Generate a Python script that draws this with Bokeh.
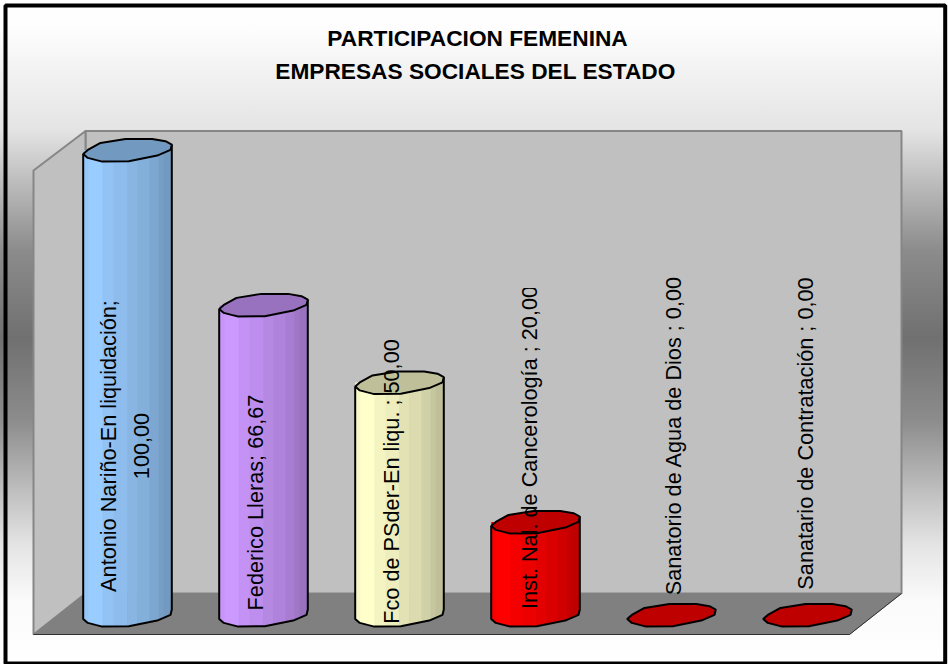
from bokeh.plotting import figure
from bokeh.models import Range1d
from bokeh.core.properties import value
from bokeh.embed import file_html
from bokeh.resources import INLINE
import numpy as np

# ---- data -------------------------------------------------------------
categories = ["Antonio Nariño-En liquidación", "Federico Lleras", "Fco de PSder-En liqu.",
              "Inst. Nal. de Cancerología", "Sanatorio de Agua de Dios", "Sanatario de Contratación"]
values = [100.00, 66.67, 50.00, 20.00, 0.00, 0.00]
value_labels = ["100,00", "66,67", "50,00", "20,00", "0,00", "0,00"]
separators = [";\n", "; ", " ; ", " ; ", " ; ", " ; "]
title_lines = ["PARTICIPACION FEMENINA", "EMPRESAS SOCIALES DEL ESTADO"]
body_colors = ["#99CCFF", "#CC99FF", "#FFFFCC", "#FF0000", "#FF0000", "#FF0000"]

# ---- layout ------------------------------------------------------------
W, H = 948, 664
X0, DX = 127.0, 136.0        # pixel of first category, category step
Y0, DY = 614.4, 4.65         # pixel of value 0, pixels per value unit
def cx(px): return (np.asarray(px, float) - X0) / DX
def vy(py): return (Y0 - np.asarray(py, float)) / DY

p = figure(width=W, height=H, output_backend="svg", toolbar_location=None,
           x_range=Range1d(float(cx(0)), float(cx(W))), y_range=Range1d(float(vy(H)), float(vy(0))),
           min_border=0, margin=(0, 0, 0, 0), outline_line_color=None,
           background_fill_color=None, border_fill_color=None)
p.xaxis.visible = False
p.yaxis.visible = False
p.grid.visible = False
p.styles = {"position": "absolute", "left": "0px", "top": "0px",
            "background": "linear-gradient(to bottom, #ffffff 0px, #fdfdfd 30px, #f5f5f5 60px, #e4e4e4 130px, "
                          "#bebebe 180px, #8c8c8c 250px, #707070 338px, #8c8c8c 420px, #bebebe 490px, "
                          "#e4e4e4 545px, #fafafa 600px, #ffffff 660px)"}

def poly(pts, **kw):
    xs = [float(cx(a)) for a, b in pts]
    ys = [float(vy(b)) for a, b in pts]
    p.patch(xs, ys, **kw)

# walls and floor
WALL, EDGE = "#C0C0C0", "#868686"
poly([(85, 130.5), (901, 130.5), (901, 593), (85, 593)], fill_color=WALL, line_color=EDGE, line_width=2)
poly([(33, 170), (85, 130.5), (85, 593), (33, 634)], fill_color=WALL, line_color=EDGE, line_width=2)
poly([(33, 634), (85, 593), (901, 593), (849, 634)], fill_color="#808080", line_color="#808080", line_width=1)
p.line([float(cx(33)), float(cx(849)), float(cx(901))], [float(vy(634)), float(vy(634)), float(vy(593))],
       line_color="#303030", line_width=1)

# cylinder outline (pixel offsets round a centre)
disk_dx = np.array([-44.3, -39.7, -27, -2, 24.7, 38, 44.3, 43, 29.7, 1.3, -25.3, -32, -39.7])
disk_dy = np.array([4, 0, -7, -11, -11, -8.7, -5.3, 0, 5.7, 11.3, 11.7, 10, 8])
low_dx = np.array([-44.3, -39.7, -32, -25.3, 1.3, 29.7, 43, 44.3])
low_dy = np.array([4, 8, 10, 11.7, 11.3, 5.7, 0, -5.3])
band_edges = np.array([-44.3, -39, -25, -14, -0.3, 9.7, 22, 31, 36, 44.3])
band_shade = [0.98, 1.0, 0.96, 0.93, 0.89, 0.86, 0.82, 0.78, 0.75]

def shade(col, f):
    r, g, b = (int(col[i:i + 2], 16) for i in (1, 3, 5))
    return "#%02x%02x%02x" % (int(r * f), int(g * f), int(b * f))

for i, (v, col) in enumerate(zip(values, body_colors)):
    if v > 0:
        xs, ys = [], []
        for a, b in zip(band_edges[:-1], band_edges[1:]):
            e = min(b + 0.6, 44.3)
            bx = np.linspace(a, e, 5)
            by = np.interp(bx, low_dx, low_dy)
            xs.append(list(i + np.r_[bx, bx[::-1]] / DX))
            ys.append(list(np.r_[-by / DY, np.full(5, v)]))
        p.patches(xs, ys, fill_color=[shade(col, f) for f in band_shade], line_color=None)
        ox = i + np.r_[low_dx[0], low_dx, low_dx[-1]] / DX
        oy = np.r_[v - low_dy[0] / DY, -low_dy / DY, v - low_dy[-1] / DY]
        p.line(ox, oy, line_color="black", line_width=2)
    p.patch(i + disk_dx / DX, v - disk_dy / DY, fill_color=shade(col, 0.75),
            line_color="black", line_width=2)

# data labels (rotated, centred on the given page pixels)
label_x = [124.5, 254.5, 391, 529, 672.5, 804.5]
label_y = [445.5, 502, 481, 447, 435, 433]
labels = [c + s + l for c, s, l in zip(categories, separators, value_labels)]
p.text(cx(label_x), vy(label_y), text=labels, angle=np.pi / 2, text_align="center", text_baseline="middle",
       text_font=value("Liberation Sans"), text_font_size="21.7px", text_color="black", text_line_height=1.3)

# the fourth label is cut off at its upper end
poly([(518, 280), (542, 280), (542, 287.5), (518, 287.5)], fill_color=WALL, line_color=None)

# title
p.text(cx([477, 475]), vy([37, 70]), text=title_lines, text_align="center", text_baseline="middle",
       text_font=value("Liberation Sans"), text_font_style="bold", text_font_size="22.7px", text_color="black")

# chart-area border
poly([(5, 5), (944.7, 5), (944.7, 663), (5, 663)], fill_color=None, line_color="black", line_width=4)

open("out.html", "w").write(file_html(p, INLINE))
